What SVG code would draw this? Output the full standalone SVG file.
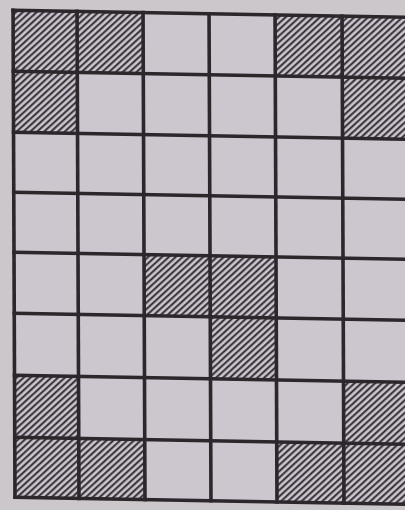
<svg xmlns="http://www.w3.org/2000/svg" width="405" height="510" viewBox="0 0 405 510">
  <defs>
    <pattern id="hatch" patternUnits="userSpaceOnUse" width="4.6" height="10" patternTransform="rotate(47)">
      <rect x="0" y="0" width="4.6" height="10" fill="#cdc8cf"/>
      <line x1="1.2" y1="0" x2="1.2" y2="10" stroke="#2a262c" stroke-width="1.9"/>
    </pattern>
  </defs>
  <style>
    .cell { fill: #ccc7ce; }
    .hat { fill: url(#hatch); }
    .grid line { stroke: #2b272b; stroke-width: 3.6; stroke-linecap: square; }
  </style>
  <rect x="0" y="0" width="405" height="510" fill="#cbc7cb"/>
  <g transform="matrix(1 0.018 0.004 1 0 0)">
    <g id="cells">
      <rect class="cell" x="13" y="10" width="395" height="487"/>
      <rect class="hat" x="13" y="10" width="64" height="61"/>
      <rect class="hat" x="77" y="10" width="66" height="61"/>
      <rect class="hat" x="275" y="10" width="67" height="61"/>
      <rect class="hat" x="342" y="10" width="66" height="61"/>
      <rect class="hat" x="13" y="71" width="64" height="61"/>
      <rect class="hat" x="342" y="71" width="66" height="61"/>
      <rect class="hat" x="143" y="252" width="66" height="61"/>
      <rect class="hat" x="209" y="252" width="66" height="61"/>
      <rect class="hat" x="209" y="313" width="66" height="62"/>
      <rect class="hat" x="13" y="375" width="64" height="62"/>
      <rect class="hat" x="342" y="375" width="66" height="62"/>
      <rect class="hat" x="13" y="437" width="64" height="60"/>
      <rect class="hat" x="77" y="437" width="66" height="60"/>
      <rect class="hat" x="275" y="437" width="67" height="60"/>
      <rect class="hat" x="342" y="437" width="66" height="60"/>
    </g>
    <g id="grid" class="grid">
      <line x1="13" y1="10" x2="13" y2="497"/>
      <line x1="77" y1="10" x2="77" y2="497"/>
      <line x1="143" y1="10" x2="143" y2="497"/>
      <line x1="209" y1="10" x2="209" y2="497"/>
      <line x1="275" y1="10" x2="275" y2="497"/>
      <line x1="342" y1="10" x2="342" y2="497"/>
      <line x1="408" y1="10" x2="408" y2="497"/>
      <line x1="13" y1="10" x2="408" y2="10"/>
      <line x1="13" y1="71" x2="408" y2="71"/>
      <line x1="13" y1="132" x2="408" y2="132"/>
      <line x1="13" y1="192" x2="408" y2="192"/>
      <line x1="13" y1="252" x2="408" y2="252"/>
      <line x1="13" y1="313" x2="408" y2="313"/>
      <line x1="13" y1="375" x2="408" y2="375"/>
      <line x1="13" y1="437" x2="408" y2="437"/>
      <line x1="13" y1="497" x2="408" y2="497"/>
    </g>
  </g>
</svg>
